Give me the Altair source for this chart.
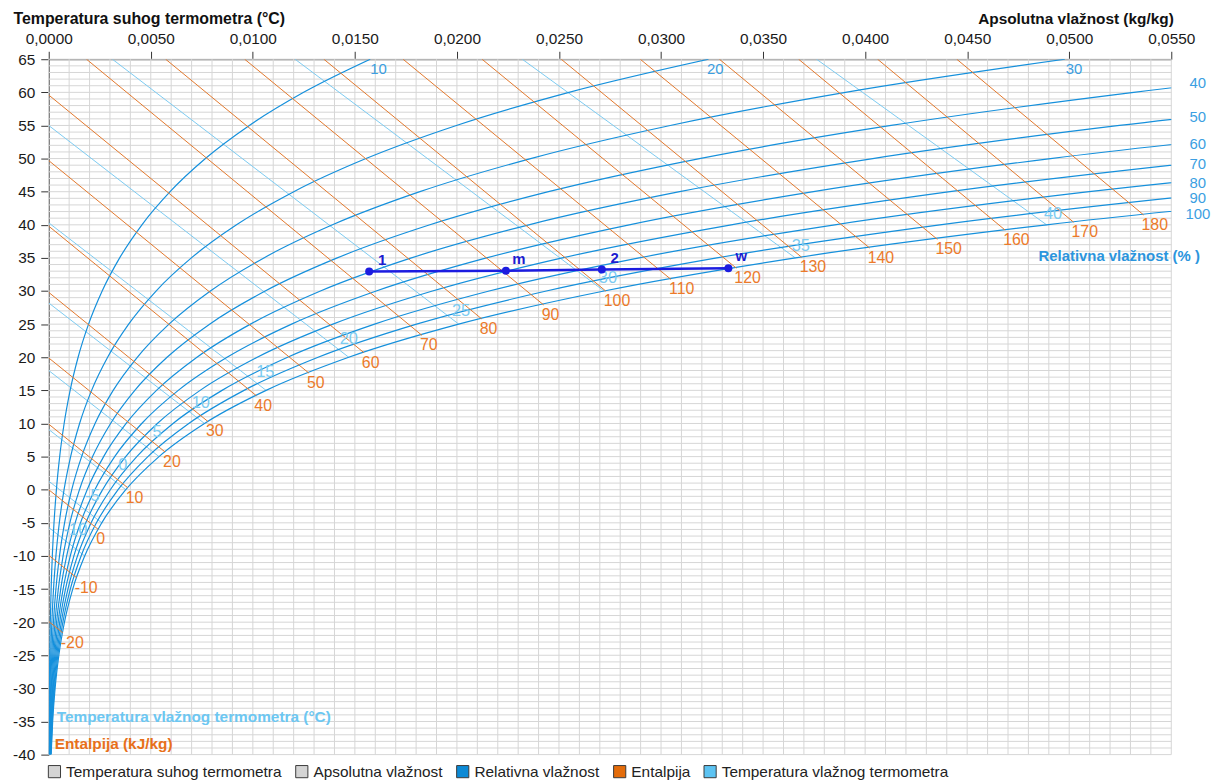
import altair as alt
import pandas as pd

FONT = "Liberation Sans, Arial, sans-serif"

# ---------------- data ----------------
TEMPS = [-40, -35, -30, -25, -20, -15, -10, -5, 0, 5, 10, 15, 20, 25, 30, 35, 40, 45, 50, 55, 60, 65]
RH_LEVELS = [10, 20, 30, 40, 50, 60, 70, 80, 90, 100]
RH_X = {
    10: [0.0000116, 0.0000193, 0.0000312, 0.0000496, 0.0000770, 0.0001174, 0.0001760, 0.0002590, 0.0003755, 0.0005361, 0.0007549, 0.0010488, 0.0014393, 0.0019519, 0.0026179, 0.0034745, 0.0045663, 0.0059460, 0.0076760, 0.0098293, 0.0124901, 0.0157544],
    20: [0.0000233, 0.0000385, 0.0000625, 0.0000992, 0.0001540, 0.0002349, 0.0003520, 0.0005180, 0.0007513, 0.0010732, 0.0015116, 0.0021012, 0.0028852, 0.0039160, 0.0052579, 0.0069881, 0.0092002, 0.0120067, 0.0155439, 0.0199743, 0.0254921, 0.0323273],
    30: [0.0000349, 0.0000578, 0.0000937, 0.0001487, 0.0002310, 0.0003524, 0.0005280, 0.0007770, 0.0011280, 0.0016111, 0.0022701, 0.0031572, 0.0043379, 0.0058926, 0.0079203, 0.0105413, 0.0139030, 0.0181856, 0.0236111, 0.0304503, 0.0390381, 0.0497846],
    40: [0.0000466, 0.0000771, 0.0001249, 0.0001983, 0.0003080, 0.0004699, 0.0007040, 0.0010360, 0.0015050, 0.0021500, 0.0030305, 0.0042167, 0.0057974, 0.0078817, 0.0106055, 0.0141348, 0.0186766, 0.0244862, 0.0318847, 0.0412738, 0.0531622, 0.0681996],
    50: [0.0000582, 0.0000964, 0.0001562, 0.0002479, 0.0003850, 0.0005875, 0.0008800, 0.0012950, 0.0018820, 0.0026899, 0.0037927, 0.0052798, 0.0072637, 0.0098835, 0.0133135, 0.0177695, 0.0235223, 0.0309119, 0.0403732, 0.0524625, 0.0679044],
    60: [0.0000699, 0.0001156, 0.0001874, 0.0002975, 0.0004620, 0.0007050, 0.0010570, 0.0015560, 0.0022600, 0.0032307, 0.0045568, 0.0063465, 0.0087368, 0.0118980, 0.0160449, 0.0214460, 0.0284419, 0.0374668, 0.0490850, 0.0640353],
    70: [0.0000815, 0.0001349, 0.0002186, 0.0003470, 0.0005390, 0.0008226, 0.0012330, 0.0018150, 0.0026380, 0.0037724, 0.0053228, 0.0074169, 0.0102168, 0.0139254, 0.0187999, 0.0251650, 0.0334372, 0.0441543, 0.0580290],
    80: [0.0000932, 0.0001542, 0.0002498, 0.0003966, 0.0006160, 0.0009403, 0.0014090, 0.0020770, 0.0030170, 0.0043150, 0.0060907, 0.0084910, 0.0117038, 0.0159658, 0.0215787, 0.0289272, 0.0385096, 0.0509788, 0.0672148],
    90: [0.0001048, 0.0001734, 0.0002811, 0.0004462, 0.0006930, 0.0010580, 0.0015860, 0.0023370, 0.0033960, 0.0048586, 0.0068604, 0.0095686, 0.0131978, 0.0180193, 0.0243819, 0.0327332, 0.0436612, 0.0579452],
    100: [0.0001165, 0.0001927, 0.0003125, 0.0004958, 0.0007710, 0.0011760, 0.0017625, 0.0025980, 0.0037750, 0.0054032, 0.0076320, 0.0106500, 0.0146989, 0.0200860, 0.0272096, 0.0365842, 0.0488937, 0.0650571],
}
# RH labels (right edge and top edge)
RH_LABEL_TEXT = ["10", "20", "30", "40", "50", "60", "70", "80", "90", "100"]
RH_LABEL_X = [0.01616, 0.03266, 0.05023, 0.05630, 0.05630, 0.05630, 0.05630, 0.05630, 0.05630, 0.05630]
RH_LABEL_T = [63.5, 63.5, 63.5, 61.4, 56.3, 52.25, 49.25, 46.3, 44.0, 41.7]

# Enthalpy lines (kJ/kg): edge end and saturation end
H_LEVELS = [-20, -10, 0, 10, 20, 30, 40, 50, 60, 70, 80, 90, 100, 110, 120, 130, 140, 150, 160, 170, 180]
H_EDGE_X = [0, 0, 0, 0, 0, 0, 0, 0, 0, 0.00185, 0.00573, 0.00960, 0.01348, 0.01736, 0.02123, 0.02511, 0.02898, 0.03286, 0.03674, 0.04061, 0.04449]
H_EDGE_T = [-19.9, -9.9, 0, 9.9, 19.9, 29.8, 39.8, 49.7, 59.6, 65, 65, 65, 65, 65, 65, 65, 65, 65, 65, 65, 65]
H_SAT_X = [0.00069, 0.00137, 0.00243, 0.00387, 0.00570, 0.00780, 0.01017, 0.01275, 0.01544, 0.01829, 0.02121, 0.02425, 0.02729, 0.03049, 0.03369, 0.03689, 0.04022, 0.04354, 0.04686, 0.05021, 0.05364]
H_SAT_T = [-21.6, -13.3, -6.0, 0.3, 5.7, 10.3, 14.2, 17.6, 20.7, 23.3, 25.8, 27.9, 30.0, 31.75, 33.45, 35.1, 36.5, 37.8, 39.2, 40.4, 41.5]

# Wet-bulb lines (°C)
TW_LEVELS = [-10, -5, 0, 5, 10, 15, 20, 25, 30, 35, 40]
TW_EDGE_X = [0, 0, 0, 0, 0, 0, 0, 0.00312, 0.01207, 0.0232, 0.03762]
TW_EDGE_T = [-5.7, 1.3, 9.1, 18.0, 28.2, 40.3, 55.0, 65, 65, 65, 65]
TW_SAT_X = [0.00176, 0.00260, 0.003775, 0.005403, 0.007632, 0.01065, 0.0147, 0.02009, 0.02721, 0.03658, 0.04889]
TW_SAT_T = [-10, -5, 0, 5, 10, 15, 20, 25, 30, 35, 40]
TW_LABEL_X = [0.00131, 0.00214, 0.00363, 0.00531, 0.00745, 0.01061, 0.0147, 0.0202, 0.0274, 0.03685, 0.04921]
TW_LABEL_T = [-6.1, -1.0, 3.8, 8.75, 13.1, 17.75, 22.7, 27.05, 32.0, 36.8, 41.6]

# Process points
P_NAMES = ["1", "m", "2", "w"]
P_X = [0.0157, 0.0224, 0.0271, 0.0333]
P_T = [32.95, 33.05, 33.25, 33.45]

# Axis ticks and grid
X_TICKS = [0.0, 0.005, 0.01, 0.015, 0.02, 0.025, 0.03, 0.035, 0.04, 0.045, 0.05, 0.055]
Y_TICKS = list(range(-40, 66, 5))
GRID_X = [i / 1000 for i in range(0, 56)]
GRID_Y = list(range(-40, 66))

LEGEND_NAMES = ["Temperatura suhog termometra", "Apsolutna vlažnost", "Relativna vlažnost",
                "Entalpija", "Temperatura vlažnog termometra"]
LEGEND_COLORS = ["#d4d4d4", "#d4d4d4", "#0c8ad6", "#e46c0a", "#5cc3f2"]

# ---------------- tables ----------------
rh_rows = []
for rh in RH_LEVELS:
    for t, xv in zip(TEMPS, RH_X[rh]):
        rh_rows.append({"rh": rh, "T": t, "x": xv})
df_rh = pd.DataFrame(rh_rows)

h_rows = []
for h, ex, et, sx, st in zip(H_LEVELS, H_EDGE_X, H_EDGE_T, H_SAT_X, H_SAT_T):
    h_rows.append({"h": h, "x": ex, "T": et})
    h_rows.append({"h": h, "x": sx, "T": st})
df_h = pd.DataFrame(h_rows)
df_h_lab = pd.DataFrame({"x": H_SAT_X, "T": H_SAT_T, "label": [str(h) for h in H_LEVELS]})

tw_rows = []
for tw, ex, et, sx, st in zip(TW_LEVELS, TW_EDGE_X, TW_EDGE_T, TW_SAT_X, TW_SAT_T):
    tw_rows.append({"tw": tw, "x": ex, "T": et})
    tw_rows.append({"tw": tw, "x": sx, "T": st})
df_tw = pd.DataFrame(tw_rows)
df_tw_lab = pd.DataFrame({"x": TW_LABEL_X, "T": TW_LABEL_T, "label": [str(t) for t in TW_LEVELS]})

df_rh_lab = pd.DataFrame({"x": RH_LABEL_X, "T": RH_LABEL_T, "label": RH_LABEL_TEXT})
df_p = pd.DataFrame({"x": P_X, "T": P_T, "label": P_NAMES})
df_gx = pd.DataFrame({"x": GRID_X})
df_gy = pd.DataFrame({"T": GRID_Y})
df_leg = pd.DataFrame({"series": LEGEND_NAMES, "x": [None] * 5, "T": [None] * 5})

df_rh_title = pd.DataFrame({"x": [0.05640], "T": [35.3], "label": ["Relativna vlažnost (% )"]})
df_tw_title = pd.DataFrame({"x": [0.00039], "T": [-34.3], "label": ["Temperatura vlažnog termometra (°C)"]})
df_h_title = pd.DataFrame({"x": [0.00029], "T": [-38.35], "label": ["Entalpija (kJ/kg)"]})

# ---------------- scales & axes ----------------
xscale = alt.Scale(domain=[0, 0.055], nice=False, zero=False)
yscale = alt.Scale(domain=[-40, 65], nice=False, zero=False)

xaxis = alt.Axis(orient="top", values=X_TICKS, grid=False,
                 labelExpr="replace(format(datum.value, '.4f'), '.', ',')",
                 labelFlush=False, labelFont=FONT, labelFontSize=15.5, labelColor="#1a1a1a",
                 labelPadding=5, tickSize=8, tickColor="#333333", domainColor="#333333",
                 title="Apsolutna vlažnost (kg/kg)", titleFont=FONT, titleFontSize=15.5,
                 titleFontWeight="bold", titleColor="#111111", titleAlign="right",
                 titleAnchor="end", titleX=1132, titleY=-41, titleBaseline="middle")
yaxis = alt.Axis(values=Y_TICKS, grid=False,
                 labelExpr="datum.value < 0 ? '-' + format(-datum.value, 'd') : format(datum.value, 'd')",
                 labelFlush=False, labelFont=FONT, labelFontSize=15.5, labelColor="#1a1a1a",
                 labelPadding=6, tickSize=8, tickColor="#333333", domainColor="#333333",
                 title="Temperatura suhog termometra (°C)", titleFont=FONT, titleFontSize=16,
                 titleFontWeight="bold", titleColor="#111111", titleAngle=0, titleAlign="left",
                 titleX=-36, titleY=-41, titleBaseline="middle")

X = alt.X("x:Q", scale=xscale, axis=xaxis)
Y = alt.Y("T:Q", scale=yscale, axis=yaxis)

# ---------------- layers ----------------
grid_v = alt.Chart(df_gx).mark_rule(color="#d6d6d6", strokeWidth=1).encode(x=X)
grid_h = alt.Chart(df_gy).mark_rule(color="#d6d6d6", strokeWidth=1).encode(y=Y)

tw_lines = alt.Chart(df_tw).mark_line(color="#7ccbf1", strokeWidth=1, clip=True).encode(
    x=X, y=Y, detail="tw:N")
rh_lines = alt.Chart(df_rh).mark_line(color="#1590dc", strokeWidth=1.2, interpolate="monotone",
                                      clip=True).encode(
    x=X, y=Y, detail="rh:N", order=alt.Order("T:Q"))
h_lines = alt.Chart(df_h).mark_line(color="#e2782c", strokeWidth=1, clip=True).encode(
    x=X, y=Y, detail="h:N")

legend_layer = alt.Chart(df_leg).mark_square(filled=True, size=150, stroke="#3a3a3a",
                                             strokeWidth=1, opacity=1).encode(
    x=X, y=Y,
    color=alt.Color("series:N",
                    scale=alt.Scale(domain=LEGEND_NAMES, range=LEGEND_COLORS),
                    legend=alt.Legend(orient="none", legendX=-2, legendY=709,
                                      direction="horizontal", title=None,
                                      symbolType="square", symbolSize=150,
                                      symbolStrokeColor="#3a3a3a", symbolStrokeWidth=1,
                                      labelFont=FONT, labelFontSize=15.5, labelColor="#222222",
                                      labelOffset=4, columnPadding=11, padding=0,
                                      labelLimit=400)))

rh_labels = alt.Chart(df_rh_lab).mark_text(font=FONT, fontSize=15, color="#3c9fe2",
                                           align="center", baseline="middle").encode(
    x=X, y=Y, text="label:N")
h_labels = alt.Chart(df_h_lab).mark_text(font=FONT, fontSize=16, color="#ec7a2a",
                                         align="left", baseline="middle", dx=-2, dy=10).encode(
    x=X, y=Y, text="label:N")
tw_labels = alt.Chart(df_tw_lab).mark_text(font=FONT, fontSize=16.5, color="#7ccbf1",
                                           align="center", baseline="middle").encode(
    x=X, y=Y, text="label:N")

rh_title = alt.Chart(df_rh_title).mark_text(font=FONT, fontSize=15, fontWeight="bold",
                                            color="#2b95dd", align="right",
                                            baseline="middle").encode(x=X, y=Y, text="label:N")
tw_title = alt.Chart(df_tw_title).mark_text(font=FONT, fontSize=15.5, fontWeight="bold",
                                            color="#6cc7f2", align="left",
                                            baseline="middle").encode(x=X, y=Y, text="label:N")
h_title = alt.Chart(df_h_title).mark_text(font=FONT, fontSize=15.5, fontWeight="bold",
                                          color="#e8701a", align="left",
                                          baseline="middle").encode(x=X, y=Y, text="label:N")

proc_line = alt.Chart(df_p).mark_line(color="#1c1ce0", strokeWidth=2.5).encode(x=X, y=Y)
proc_pts = alt.Chart(df_p).mark_circle(color="#1c1ce0", size=65, opacity=1).encode(x=X, y=Y)
proc_lab = alt.Chart(df_p).mark_text(font=FONT, fontSize=15, fontWeight="bold", color="#1c1cd0",
                                     align="center", baseline="middle", dx=13, dy=-12).encode(
    x=X, y=Y, text="label:N")

chart = alt.layer(
    grid_v, grid_h, tw_lines, rh_lines, h_lines, legend_layer,
    rh_labels, h_labels, tw_labels, rh_title, tw_title, h_title,
    proc_line, proc_pts, proc_lab
).properties(
    width=1130, height=700,
    padding={"left": 41, "top": 49, "right": 43, "bottom": 27},
    autosize=alt.AutoSizeParams(type="none"),
    background="white",
).configure_view(strokeWidth=0)

chart.save("out.html", embed_options={"renderer": "svg", "actions": False})
